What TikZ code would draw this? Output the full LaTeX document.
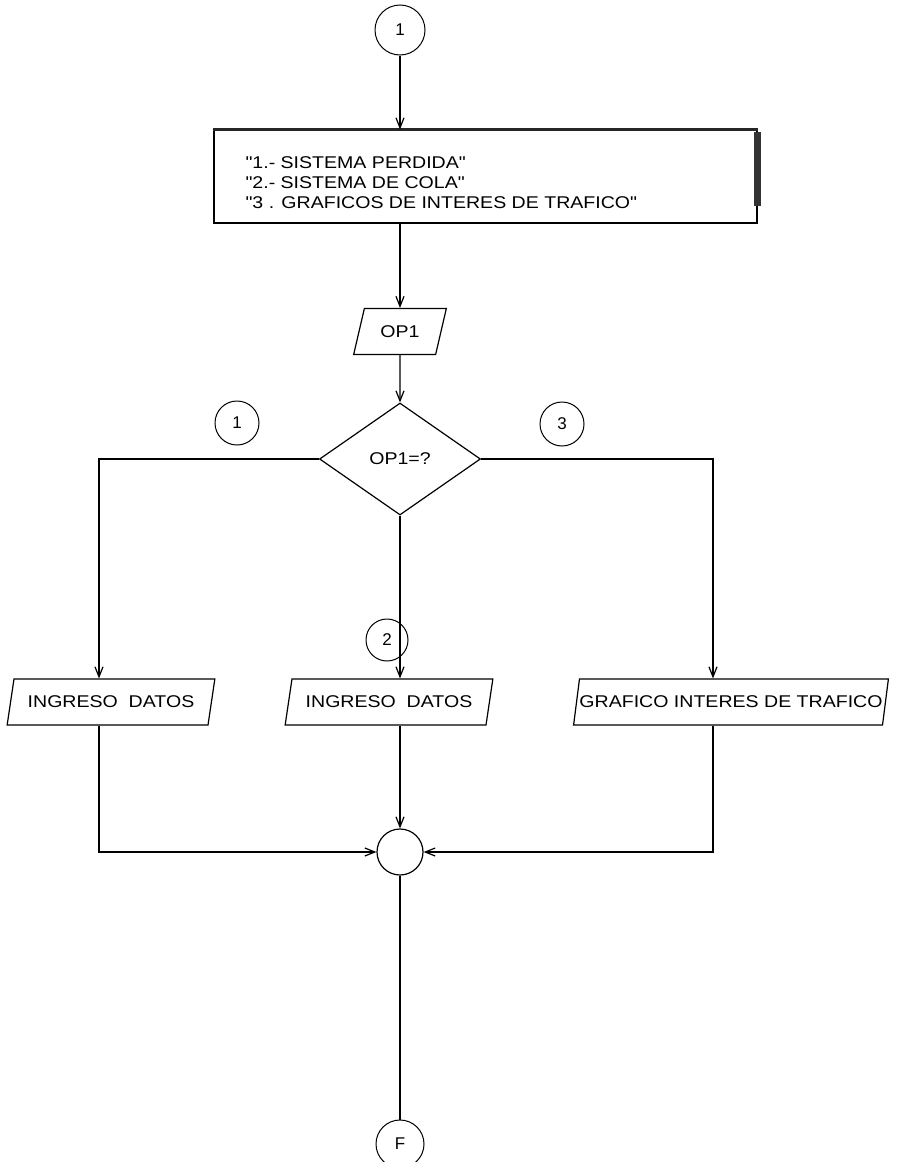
\documentclass[tikz,border=0pt]{standalone}
\usepackage{fontspec}
\setmainfont{Liberation Sans}
% plain family: keeps the straight double quote as typed
\newfontfamily\lsans{Liberation Sans}
\usetikzlibrary{shapes.geometric,arrows.meta}
\newcommand{\wtxt}[1]{\scalebox{1.15}[1]{#1}}

\begin{document}
\begin{tikzpicture}[x=1pt,y=-1pt,
  flow/.style={line width=1.2pt},
  arr/.style={flow,-{Straight Barb[length=10pt,width=8pt,line width=1.2pt]}},
  conn/.style={circle,draw,line width=1pt,inner sep=0pt,minimum size=#1,
    font=\lsans\fontsize{17}{20}\selectfont},
  conn/.default=44pt,
  io/.style={trapezium,trapezium left angle=64,trapezium right angle=116,
    trapezium stretches=true,draw,line width=1.2pt,inner sep=0pt,
    minimum height=46pt,minimum width=#1,font=\lsans\fontsize{17}{20}\selectfont},
  menubox/.style={draw,line width=1.2pt,inner sep=0pt,
    minimum width=543pt,minimum height=93pt},
  decision/.style={diamond,draw,line width=1.2pt,inner sep=0pt,
    minimum width=161pt,minimum height=112pt,font=\lsans\fontsize{17}{20}\selectfont},
  txt/.style={font=\lsans\fontsize{17}{20}\selectfont}
]
\useasboundingbox (0,0) rectangle (912,1162);

% entry connector and menu
\node[conn=50pt] (start) at (400,30) {1};
\node[menubox] (menu) at (485.5,176.5) {};
\draw[line width=3pt,black!85] (menu.north west) -- (menu.north east);
\fill[black!80] ([xshift=-4pt,yshift=-3pt]menu.north east)
  rectangle ([xshift=3pt,yshift=18pt]menu.south east);
\node[txt,anchor=west,align=left] (menutxt) at (242,183)
  {\wtxt{"1.- SISTEMA PERDIDA"}\\\wtxt{"2.- SISTEMA DE COLA"}\\\wtxt{"3 . GRAFICOS DE INTERES DE TRAFICO"}};

% option input and decision
\node[io=93pt] (op) at (400,331.5) {\wtxt{OP1}};
\node[decision] (dec) at (400,459) {\wtxt{OP1=?}};

% branch labels
\node[conn] (b1) at (237,423) {1};
\node[conn] (b3) at (562,424) {3};
\node[conn=42pt] (b2) at (387,640) {2};

% branch processes
\node[io=208pt] (lft) at (111,702) {\wtxt{INGRESO\ \ DATOS}};
\node[io=208pt] (mid) at (389,702) {\wtxt{INGRESO\ \ DATOS}};
\node[io=312pt] (rgt) at (731,702) {\wtxt{GRAFICO INTERES DE TRAFICO}};

% junction and end
\node[circle,draw,line width=1.2pt,minimum size=46pt,inner sep=0pt] (join) at (400,852) {};
\node[conn=48pt] (fin) at (400,1144) {F};

\coordinate (lcol) at (99,459);
\coordinate (rcol) at (713,459);

% connectors
\draw[arr] (start) -- (start |- menu.north);
\draw[arr] (menu.south -| op.north) -- (op.north);
\draw[arr] (op.south) -- (dec.north);
\draw[arr] (dec.west) -- (lcol) -- (lcol |- lft.north);
\draw[arr] (dec.east) -- (rcol) -- (rcol |- rgt.north);
\draw[arr] (dec.south) -- (dec.south |- mid.north);
\draw[arr] (lcol |- lft.south) |- (join.west);
\draw[arr] (rcol |- rgt.south) |- (join.east);
\draw[arr] (join.north |- mid.south) -- (join.north);
\draw[flow] (join.south) -- (fin.north);
\end{tikzpicture}
\end{document}
